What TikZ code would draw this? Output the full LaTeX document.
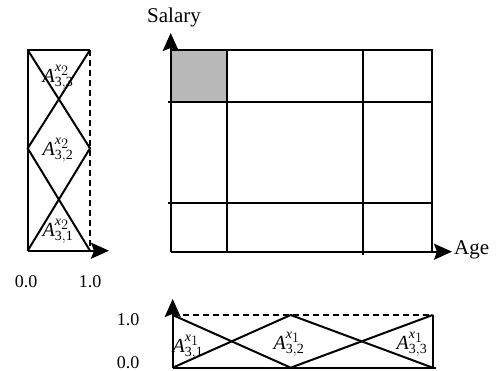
\documentclass[tikz,border=0pt]{standalone}
\usepackage{fontspec}
\setmainfont{Liberation Serif}
\usetikzlibrary{arrows.meta}

% membership label A^{x_i}_{3,j}
\newcommand{\memb}[2]{$\mathit{A}^{\mathit{x}_{\scriptstyle #1}}_{\mathrm{3,#2}}$}

\begin{document}
\begin{tikzpicture}[
    x=1pt, y=-1pt,
    every node/.style={font=\fontsize{18}{20}\selectfont, inner sep=0pt},
    axislabel/.style={font=\fontsize{21}{24}\selectfont},
    memlabel/.style={font=\fontsize{20}{22}\selectfont},
    axis/.style={line width=2pt, -{Stealth[length=18pt,width=16pt,inset=3pt]}},
    edge/.style={line width=2pt},
    dashedge/.style={line width=1.6pt, dash pattern=on 6pt off 4pt},
    cell/.style={fill=black!28}
]
\useasboundingbox (0,0) rectangle (500,371);

% Main grid (Age x Salary)
\fill[cell] (170.7,50) rectangle (226.7,101.7);
\foreach \y in {101.7, 203} {
    \draw[edge] (168,\y) -- (433,\y);
}
\draw[edge] (226.7,50) -- (226.7,252);
\draw[edge] (362.7,50) -- (362.7,255);
\draw[edge] (170.7,50) -- (431.7,50) -- (431.7,251.7);
\draw[axis] (170.7,251.7) -- (452,251.7);
\draw[axis] (170.7,251.7) -- (170.7,33);
\node[axislabel, anchor=west] (age) at (454,250) {Age};
\node[axislabel] (salary) at (174,17) {Salary};

% Left panel: memberships of x2 (vertical)
\draw[axis] (27.7,250.7) -- (109,250.7);
\draw[edge] (27.7,250.7) -- (27.7,50) -- (90,50);
\draw[dashedge] (90,50) -- (90,250.7);
\draw[edge] (27.7,50) -- (90,148.3) -- (27.7,250.7);
\draw[edge] (90,50) -- (27.7,148.3) -- (90,250.7);
\node[memlabel] (l33) at (58,77) {\memb{2}{3}};
\node[memlabel] (l32) at (58,150) {\memb{2}{2}};
\node[memlabel] (l31) at (58,231) {\memb{2}{1}};
\node (lzero) at (26,282) {0.0};
\node (lone) at (90,282) {1.0};

% Bottom panel: memberships of x1 (horizontal)
\draw[axis] (172.7,367.7) -- (172.7,299);
\draw[edge] (172.7,367.7) -- (436,367.7);
\draw[dashedge] (172.7,315) -- (432.7,315);
\draw[edge] (432.7,315) -- (432.7,367.7);
\draw[edge] (172.7,315) -- (290.7,367.7) -- (432.7,315);
\draw[edge] (172.7,367.7) -- (290.7,315) -- (432.7,367.7);
\node[memlabel] (b31) at (188,347) {\memb{1}{1}};
\node[memlabel] (b32) at (289,344) {\memb{1}{2}};
\node[memlabel] (b33) at (412,344) {\memb{1}{3}};
\node (bone) at (128,320) {1.0};
\node (bzero) at (128,362.5) {0.0};

\end{tikzpicture}
\end{document}
